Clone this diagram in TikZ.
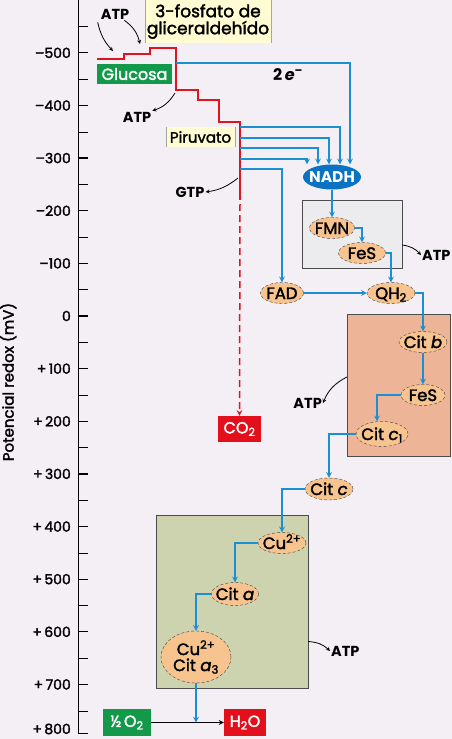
\documentclass[tikz,border=0pt]{standalone}
\usepackage{fontspec}
\setmainfont{Poppins}
\newfontfamily\med{Poppins}[FakeBold=2]
\usetikzlibrary{shapes.geometric, arrows, positioning}
\definecolor{bgcol}{HTML}{F3EFF4}
\definecolor{eblue}{HTML}{1A8FD2}
\definecolor{nadhblue}{HTML}{0A72C2}
\definecolor{redline}{HTML}{E0141E}
\definecolor{peach}{HTML}{F7C38E}
\definecolor{paleyellow}{HTML}{FFFBD2}
\definecolor{tagred}{HTML}{E3101C}
\definecolor{taggreen}{HTML}{12994A}
\definecolor{cIgray}{HTML}{ECEBEE}
\definecolor{cIIIorange}{HTML}{EDB497}
\definecolor{cIVgreen}{HTML}{CDD3AE}
\tikzstyle{carrier} = [ellipse, densely dashed, draw=black!75, fill=peach, inner sep=0pt, text height=12pt, text depth=0pt, font=\med\fontsize{16.5}{17}\selectfont]
\tikzstyle{compound} = [rectangle, fill=paleyellow, inner sep=0pt, text centered, font=\med\fontsize{15}{17}\selectfont]
\tikzstyle{molbox} = [rectangle, inner sep=0pt, text=white, text centered, font=\med\fontsize{16}{16}\selectfont]
\tikzstyle{complex} = [rectangle, thin, draw=black!70, inner sep=0pt]
\tikzstyle{energy} = [inner sep=1pt, font=\fontsize{14.5}{15}\selectfont\bfseries]
\tikzstyle{ticklab} = [anchor=east, inner sep=0pt, font=\med\fontsize{14}{14}\selectfont]
\tikzstyle{arrow} = [line width=1.5pt, ->, >=stealth, draw=eblue]
\tikzstyle{yieldarrow} = [thick, ->, >=stealth]
\tikzstyle{redox} = [line width=1.5pt, draw=redline]
\begin{document}
\begin{tikzpicture}[x=1pt, y=-1pt]

    \useasboundingbox[fill=bgcol] (0,0) rectangle (452,739);

    % potential axis
    \draw [line width=1pt] (78,0) -- (78,733) -- (88,733);
    \foreach \v in {-550,-450,...,750}
        \draw [thin] (78,{316+0.5263*\v}) -- ++(10,0);
    \foreach \v/\t in {-500/–500,-400/–400,-300/–300,-200/–200,-100/–100,0/0,100/+\,100,200/+\,200,300/+\,300,400/+\,400,500/+\,500,600/+\,600,700/+\,700}
    {
        \draw [line width=1.3pt] (78,{316+0.5263*\v}) -- ++(10,0);
        \node [ticklab] at (71,{316+0.5263*\v}) {\t};
    }
    \node (lab800) [ticklab] at (71,729) {+\,800};
    \node (axislabel) [rotate=90, font=\med\fontsize{15}{15}\selectfont] at (8,382) {Potencial redox (mV)};

    % complexes
    \node (cI) [complex, fill=cIgray, minimum width=100pt, minimum height=68pt] at (352,234) {};
    \node (cIII) [complex, fill=cIIIorange, minimum width=103pt, minimum height=142pt] at (398.5,385) {};
    \node (cIV) [complex, fill=cIVgreen, minimum width=152pt, minimum height=173pt] at (232,601.5) {};

    % substrates
    \node (g3p) [compound, minimum width=126pt, minimum height=43pt, align=center, font=\med\fontsize{17}{17}\selectfont] at (208,21.5) {3-fosfato de\\gliceraldehído};
    \draw [black!35] (g3p.north west) -- (g3p.south west) (g3p.north east) -- (g3p.south east);
    \node (glucose) [molbox, fill=taggreen, minimum width=75pt, minimum height=20pt] at (134.5,74) {Glucosa};
    \node (pyruvate) [compound, minimum width=69pt, minimum height=20pt] at (200.5,137) {Piruvato};
    \draw [black!35] (pyruvate.north west) -- (pyruvate.south west) (pyruvate.north east) -- (pyruvate.south east);
    \node (co2) [molbox, fill=tagred, minimum width=43pt, minimum height=26pt] at (239.5,429) {CO\textsubscript{2}};
    \node (o2) [molbox, fill=taggreen, minimum width=48pt, minimum height=27pt] at (127,722.5) {½\,O\textsubscript{2}};
    \node (h2o) [molbox, fill=tagred, minimum width=42pt, minimum height=27pt] at (245,722.5) {H\textsubscript{2}O};

    % carriers
    \node (nadh) [ellipse, fill=nadhblue, text=white, inner sep=0pt, text height=11pt, text depth=0pt, minimum width=58pt, minimum height=25pt, font=\fontsize{15.5}{16}\selectfont\bfseries] at (332,177) {\makebox[0pt]{NADH}};
    \node (fmn) [carrier, minimum width=45pt, minimum height=21pt] at (332,228) {\makebox[0pt]{FMN}};
    \node (fesI) [carrier, minimum width=47pt, minimum height=21pt] at (362,253) {\makebox[0pt]{FeS}};
    \node (fad) [carrier, minimum width=43pt, minimum height=21pt] at (282,293) {\makebox[0pt]{FAD}};
    \node (qh2) [carrier, minimum width=48pt, minimum height=21pt] at (391,293) {\makebox[0pt]{QH\textsubscript{2}}};
    \node (citb) [carrier, minimum width=48pt, minimum height=21pt] at (423,342) {\makebox[0pt]{Cit \textit{b}}};
    \node (fesIII) [carrier, minimum width=44pt, minimum height=21pt] at (423,395) {\makebox[0pt]{FeS}};
    \node (citc1) [carrier, minimum width=52pt, minimum height=25pt] at (382,434) {\makebox[0pt]{Cit \textit{c}\textsubscript{1}}};
    \node (citc) [carrier, minimum width=48pt, minimum height=22pt] at (329,489) {\makebox[0pt]{Cit \textit{c}}};
    \node (cu) [carrier, minimum width=48pt, minimum height=21pt] at (282,543) {\makebox[0pt]{Cu\textsuperscript{2+}}};
    \node (cita) [carrier, minimum width=47pt, minimum height=23pt] at (235,594) {\makebox[0pt]{Cit \textit{a}}};
    \node (cua3) [carrier, text height=, text depth=, minimum width=70pt, minimum height=52pt, align=center] at (196,657) {Cu\textsuperscript{2+}\\[-1pt]Cit \textit{a}\textsubscript{3}};

    % energy yields
    \node (atpA) [energy] at (115,14) {ATP};
    \node (atpB) [energy] at (137,117) {ATP};
    \node (gtp) [energy] at (190,192) {GTP};
    \node (atpI) [energy, anchor=west] at (421,255) {ATP};
    \node (atpIII) [energy, anchor=east] at (323,403) {ATP};
    \node (atpIV) [energy, anchor=west] at (330,651) {ATP};
    \node (electrons) [energy, font=\fontsize{16}{16}\selectfont\bfseries] at (288,75) {2\,\textit{e}\textsuperscript{–}};

    % glycolysis and citric acid cycle
    \draw [redox] (97,59) -- (124,59) -- (124,54) -- (150,54) -- (150,48) -- (176,48)
        -- (176,90) -- (198,90) -- (198,100) -- (219,100) -- (219,122) -- (240,122) -- (240,200);
    \draw [redox, dash pattern=on 7pt off 4pt, ->, >=stealth] (240,204) -- (co2.north);

    \coordinate (glyc) at (176,63);
    \coordinate (krebsA) at (240,127);
    \coordinate (krebsB) at (240,138);
    \coordinate (krebsC) at (240,148);
    \coordinate (krebsD) at (240,159);
    \coordinate (krebsE) at (240,169);

    \draw [yieldarrow] (atpA.south west) ++(-2,2) to[bend right=15] (113,51);
    \draw [yieldarrow] (atpA.south east) ++(-6,0) to[bend left=20] (140,44);
    \draw [yieldarrow] (175,93) to[bend left=20] (atpB.north east);
    \draw [yieldarrow] (238,178) to[bend left=15] (gtp.east);
    \draw [yieldarrow] ([yshift=-11pt]cI.east) to[bend left=20] (atpI.west);
    \draw [yieldarrow] ([yshift=8pt]cIII.west) to[bend right=20] (atpIII.east);
    \draw [yieldarrow] ([yshift=-40pt]cIV.east) to[bend left=20] (atpIV.west);

    % electron transport
    \draw [arrow] (glyc) -| ([xshift=18pt]nadh.north);
    \draw [arrow] (krebsA) -| ([xshift=8pt]nadh.north);
    \draw [arrow] (krebsB) -| ([xshift=-3pt]nadh.north);
    \draw [arrow] (krebsC) -| ([xshift=-14pt]nadh.north);
    \draw [arrow] (krebsD) -| ([xshift=-25pt]nadh.north);
    \draw [arrow] (krebsE) -| (fad.north);

    \draw [arrow] (nadh) -- (fmn);
    \draw [arrow] (fmn.east) -| (fesI.north);
    \draw [arrow] (fesI.east) -| (qh2.north);
    \draw [arrow] (fad) -- (qh2);
    \draw [arrow] (qh2.east) -| (citb.north);
    \draw [arrow] (citb) -- (fesIII);
    \draw [arrow] (fesIII.west) -| ([xshift=-5pt]citc1.north);
    \draw [arrow] (citc1.west) -| (citc.north);
    \draw [arrow] (citc.west) -| (cu.north);
    \draw [arrow] (cu.west) -| (cita.north);
    \draw [arrow] (cita.west) -| (cua3.north);
    \draw [arrow] (cua3.south) -- (cua3.south |- o2.east);
    \draw [yieldarrow, line width=1.2pt] (o2) -- (h2o);

\end{tikzpicture}
\end{document}
